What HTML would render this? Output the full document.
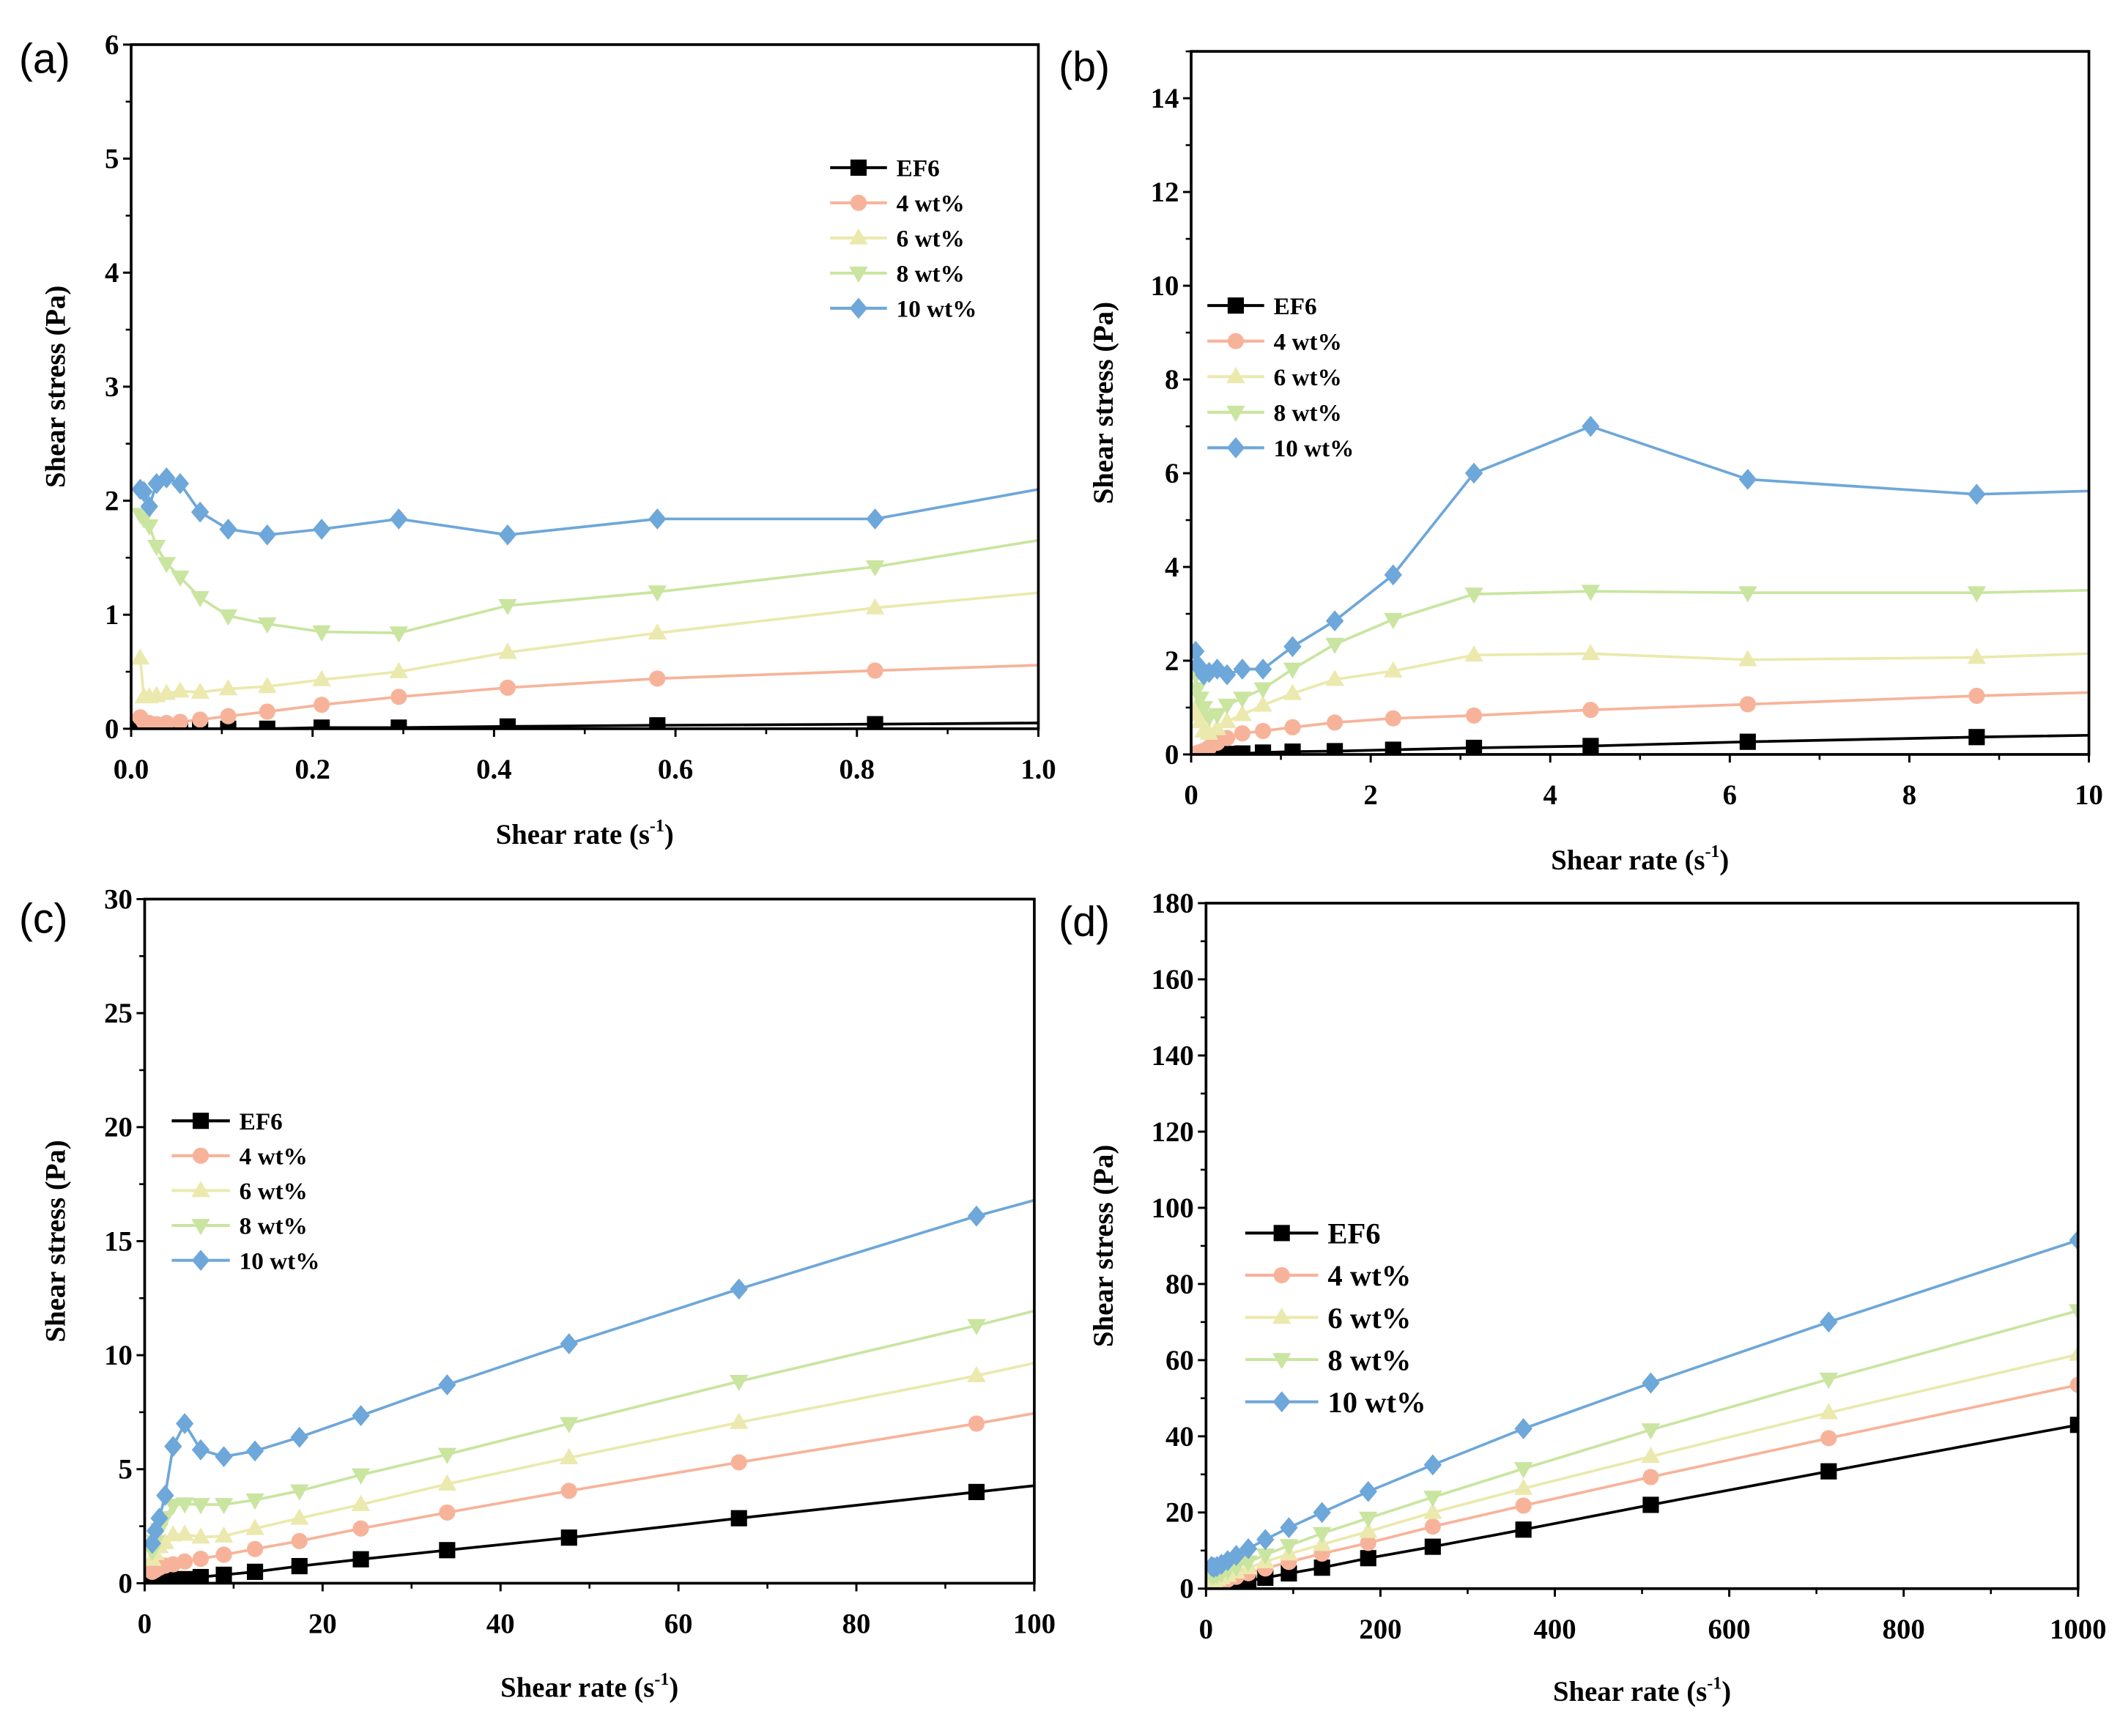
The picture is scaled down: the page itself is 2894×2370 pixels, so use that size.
<!DOCTYPE html>
<html><head><meta charset="utf-8"><style>
html,body{margin:0;padding:0;background:#fff}
svg{display:block}
text{font-family:"Liberation Serif",serif;font-weight:bold;fill:#000}
</style></head><body>
<svg id="fig" width="2894" height="2370" viewBox="0 0 1568 1284" preserveAspectRatio="none" xmlns="http://www.w3.org/2000/svg"></svg>
<script>
// ---- data ----
const seriesNames = ["EF6","4 wt%","6 wt%","8 wt%","10 wt%"];
const seriesColors = ["#000000","#f7b39a","#ebe9ad","#c9e5a0","#6ea7d9"];
const markerTypes = ["square","circle","up","down","diamond"];

const aX = [0.01,0.014,0.02,0.028,0.039,0.054,0.076,0.107,0.15,0.21,0.295,0.415,0.58,0.82,1.16];
const aEF6 = [0,0,0,0,0,0,0,0,0,0.01,0.01,0.02,0.03,0.04,0.06];
const a4 = [0.1,0.06,0.05,0.04,0.05,0.06,0.08,0.11,0.15,0.21,0.28,0.36,0.44,0.51,0.6];
const a6 = [0.62,0.28,0.28,0.29,0.31,0.33,0.32,0.35,0.37,0.43,0.5,0.67,0.84,1.06,1.31];
const a8 = [1.88,1.84,1.78,1.6,1.45,1.33,1.15,0.99,0.92,0.85,0.84,1.08,1.2,1.42,1.86];
const a10 = [2.1,2.08,1.95,2.15,2.2,2.15,1.9,1.75,1.7,1.75,1.84,1.7,1.84,1.84,2.33];

const bX = [0.05,0.07,0.1,0.14,0.2,0.29,0.4,0.57,0.8,1.13,1.6,2.25,3.15,4.45,6.2,8.75,12.3];
const bEF6 = [0,0,0,0,0,0,0.01,0.02,0.04,0.06,0.07,0.1,0.14,0.18,0.27,0.37,0.48];
const b4 = [0.02,0.03,0.05,0.08,0.15,0.25,0.35,0.45,0.5,0.58,0.68,0.77,0.83,0.95,1.07,1.25,1.45];
const b6 = [1.0,0.85,0.7,0.5,0.45,0.55,0.7,0.85,1.05,1.3,1.6,1.78,2.12,2.15,2.02,2.07,2.3];
const b8 = [1.7,1.4,1.2,1.0,0.8,0.85,1.05,1.2,1.4,1.82,2.35,2.88,3.42,3.48,3.45,3.45,3.6];
const b10 = [2.2,1.9,1.85,1.7,1.75,1.82,1.7,1.82,1.82,2.3,2.85,3.83,6.0,7.0,5.87,5.55,5.75];

const cX = [0.85,1.2,1.65,2.3,3.2,4.5,6.3,8.9,12.4,17.4,24.3,34,47.7,66.8,93.5,131];
const cEF6 = [0.04,0.06,0.07,0.1,0.14,0.18,0.27,0.37,0.5,0.75,1.05,1.45,2.0,2.85,4.0,5.6];
const c4 = [0.5,0.58,0.68,0.77,0.83,0.95,1.07,1.25,1.5,1.85,2.4,3.1,4.05,5.3,7.0,9.6];
const c6 = [1.05,1.3,1.6,1.78,2.12,2.15,2.02,2.07,2.4,2.85,3.45,4.35,5.5,7.05,9.1,12.3];
const c8 = [1.4,1.82,2.35,2.88,3.42,3.48,3.45,3.45,3.65,4.05,4.75,5.65,7.0,8.85,11.3,15.0];
const c10 = [1.75,2.3,2.85,3.85,6.0,7.0,5.85,5.55,5.8,6.4,7.35,8.7,10.5,12.9,16.1,20.1];

const dX = [6.4,9.0,12.6,17.7,24.8,34.7,48.5,68,95,133,186,260,364,510,714,1000];
const dEF6 = [0.27,0.37,0.5,0.75,1.05,1.45,2.0,2.85,4.0,5.5,8.0,11,15.5,22,30.8,43];
const d4 = [1.07,1.25,1.5,1.85,2.4,3.1,4.05,5.3,7.0,9.2,12,16.3,21.8,29.3,39.5,53.5];
const d6 = [2.02,2.07,2.4,2.85,3.45,4.35,5.5,7.05,9.1,11.6,15,20,26.3,34.7,46.2,61.5];
const d8 = [3.45,3.45,3.65,4.05,4.75,5.65,7.0,8.85,11.3,14.5,18.5,24,31.5,41.7,55,73];
const d10 = [5.85,5.55,5.8,6.4,7.35,8.7,10.5,12.9,16,20,25.5,32.5,42,54,70,91.5];

const aXTicks = ["0.0","0.2","0.4","0.6","0.8","1.0"];
const aYTicks = ["0","1","2","3","4","5","6"];
const bXTicks = ["0","2","4","6","8","10"];
const bYTicks = ["0","2","4","6","8","10","12","14"];
const cXTicks = ["0","20","40","60","80","100"];
const cYTicks = ["0","5","10","15","20","25","30"];
const dXTicks = ["0","200","400","600","800","1000"];
const dYTicks = ["0","20","40","60","80","100","120","140","160","180"];

const NS = "http://www.w3.org/2000/svg";
const svg = document.getElementById('fig');
function mk(tag, attrs, parent){
  const e = document.createElementNS(NS, tag);
  for (const k in attrs) e.setAttribute(k, attrs[k]);
  (parent||svg).appendChild(e);
  return e;
}
function marker(g, type, x, y, r, color){
  let e;
  if (type==="square") e = mk('rect',{x:x-r,y:y-r,width:2*r,height:2*r,fill:color},g);
  else if (type==="circle") e = mk('circle',{cx:x,cy:y,r:r,fill:color},g);
  else if (type==="up") e = mk('polygon',{points:`${x},${y-r*1.2} ${x-r*1.15},${y+r*0.8} ${x+r*1.15},${y+r*0.8}`,fill:color},g);
  else if (type==="down") e = mk('polygon',{points:`${x},${y+r*1.2} ${x-r*1.15},${y-r*0.8} ${x+r*1.15},${y-r*0.8}`,fill:color},g);
  else e = mk('polygon',{points:`${x},${y-r*1.3} ${x+r*1.1},${y} ${x},${y+r*1.3} ${x-r*1.1},${y}`,fill:color},g);
  
  
  return e;
}

function panel(p){
  const g = mk('g',{});
  
  
  const sx = v => p.x0 + v/(p.xmax) * (p.x1 - p.x0);
  const sy = v => p.y0 - v/(p.ymax) * (p.y0 - p.yt);
  const cid = 'clip'+p.id;
  const cp = mk('clipPath',{id:cid},g);
  mk('rect',{x:p.x0,y:p.yt,width:p.x1-p.x0,height:p.y0-p.yt},cp);
  const sg = mk('g',{'clip-path':`url(#${cid})`},g);
  
  
  for (let s=p.ys.length-1; s>=0; s--){
    const pts = p.xs.map((xv,i)=>`${sx(xv)},${sy(p.ys[s][i])}`).join(' ');
    const pl = mk('polyline',{points:pts,fill:'none',stroke:seriesColors[s],'stroke-width':2},sg);
    
    
  }
  for (let s=0; s<p.ys.length; s++){
    p.xs.forEach((xv,i)=>marker(sg, markerTypes[s], sx(xv), sy(p.ys[s][i]), p.mr, seriesColors[s]));
  }
  const fr = mk('rect',{x:p.x0,y:p.yt,width:p.x1-p.x0,height:p.y0-p.yt,fill:'none',stroke:'#000','stroke-width':2},g);
  
  
  const xStep = p.xmax/(p.xt.length-1), yStep = p.yStep;
  p.xt.forEach((lab,i)=>{
    const X = sx(i*xStep);
    mk('line',{x1:X,y1:p.y0,x2:X,y2:p.y0+6,stroke:'#000','stroke-width':1.6},g);
    if (i<p.xt.length-1){ const Xm = sx((i+0.5)*xStep); mk('line',{x1:Xm,y1:p.y0,x2:Xm,y2:p.y0+4,stroke:'#000','stroke-width':1.4},g); }
    const t = mk('text',{x:X,y:p.y0+37,'text-anchor':'middle','font-size':p.fs},g);
    t.textContent = lab;
    
    
  });
  p.yt_.forEach((lab,i)=>{
    const Y = sy(i*yStep);
    mk('line',{x1:p.x0,y1:Y,x2:p.x0-6,y2:Y,stroke:'#000','stroke-width':1.6},g);
    const Ym = sy((i+0.5)*yStep);
    if (Ym >= p.yt-0.5) mk('line',{x1:p.x0,y1:Ym,x2:p.x0-4,y2:Ym,stroke:'#000','stroke-width':1.4},g);
    const t = mk('text',{x:p.x0-9,y:Y+7,'text-anchor':'end','font-size':p.fs},g);
    t.textContent = lab;
    
    
  });
  const xt = mk('text',{x:(p.x0+p.x1)/2,y:p.xTitleY,'text-anchor':'middle','font-size':p.fs},g);
  xt.innerHTML = 'Shear rate (s<tspan dy="-9" font-size="13">-1</tspan><tspan dy="9">)</tspan>';
  
  
  const cy = (p.yt+p.y0)/2;
  const yt = mk('text',{x:p.yTitleX,y:cy,'text-anchor':'middle','font-size':p.fs,transform:`rotate(-90 ${p.yTitleX} ${cy})`},g);
  yt.textContent = 'Shear stress (Pa)';
  
  
  const pl = mk('text',{x:p.lx,y:p.ly,'font-size':31,style:'font-family:"Liberation Sans",sans-serif;font-weight:normal'},g);
  pl.textContent = '('+p.id+')';
  
  
  const lg = mk('g',{},g);
  
  
  seriesNames.forEach((nm,s)=>{
    const Y = p.leg.y + s*p.leg.dy;
    const e = mk('g',{},lg);
    
    
    mk('line',{x1:p.leg.x,y1:Y,x2:p.leg.x+p.leg.w,y2:Y,stroke:seriesColors[s],'stroke-width':2.2},e);
    marker(e, markerTypes[s], p.leg.x+p.leg.w/2, Y, p.mr, seriesColors[s]);
    const t = mk('text',{x:p.leg.x+p.leg.w+7,y:Y+p.leg.fs*0.35,'font-size':p.leg.fs},e);
    t.textContent = nm;
  });
}

panel({id:'a',x0:97,x1:768,yt:33,y0:539,xmax:1,ymax:6,yStep:1,xs:aX,ys:[aEF6,a4,a6,a8,a10],xt:aXTicks,yt_:aYTicks,mr:6,fs:21,
  xTitleY:624,yTitleX:48,lx:14,ly:54,leg:{x:614,w:42,y:124,dy:26,fs:18}});
panel({id:'b',x0:881,x1:1545,yt:38,y0:558,xmax:10,ymax:15,yStep:2,xs:bX,ys:[bEF6,b4,b6,b8,b10],xt:bXTicks,yt_:bYTicks,mr:6,fs:21,
  xTitleY:643,yTitleX:823,lx:783,ly:60,leg:{x:893,w:42,y:226,dy:26.3,fs:18}});
panel({id:'c',x0:107,x1:765,yt:665,y0:1171,xmax:100,ymax:30,yStep:5,xs:cX,ys:[cEF6,c4,c6,c8,c10],xt:cXTicks,yt_:cYTicks,mr:6,fs:21,
  xTitleY:1255,yTitleX:48,lx:14,ly:690,leg:{x:127,w:43,y:829,dy:25.8,fs:18}});
panel({id:'d',x0:892,x1:1537,yt:668,y0:1175,xmax:1000,ymax:180,yStep:20,xs:dX,ys:[dEF6,d4,d6,d8,d10],xt:dXTicks,yt_:dYTicks,mr:6,fs:21,
  xTitleY:1258,yTitleX:823,lx:783,ly:692,leg:{x:921,w:54,y:912,dy:31.2,fs:22}});
</script>
</body></html>
